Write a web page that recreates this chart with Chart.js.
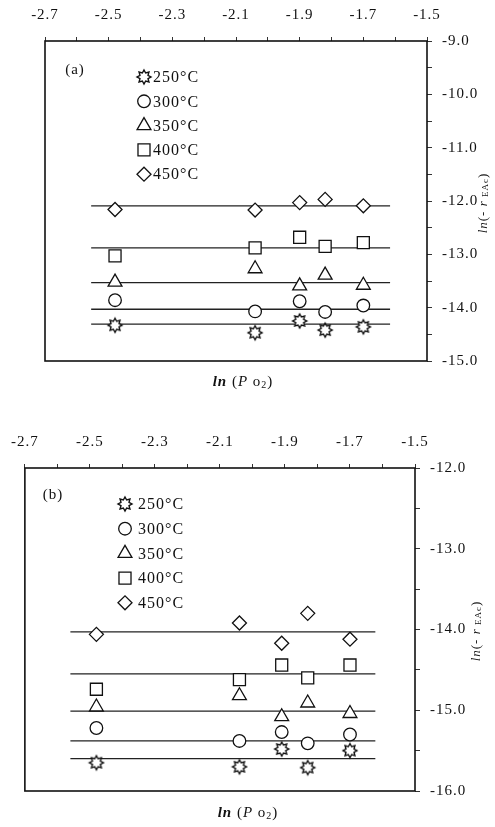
<!DOCTYPE html>
<html><head><meta charset="utf-8">
<script src="https://cdn.jsdelivr.net/npm/chart.js@4.4.1/dist/chart.umd.min.js"></script>
<style>
html,body{margin:0;padding:0;background:#fff;width:495px;height:827px;overflow:hidden}
canvas{position:absolute;left:0}
#ca{top:0}
#cb{top:400px}
</style></head><body>
<canvas id="ca" width="495" height="400"></canvas>
<canvas id="cb" width="495" height="427"></canvas>
<script>
// ---- data ----
const temps = ['250°C','300°C','350°C','400°C','450°C'];
const xA = [-2.48,-2.04,-1.90,-1.82,-1.70];
const xB = [-2.48,-2.04,-1.91,-1.83,-1.70];
const a250 = [-14.33,-14.47,-14.25,-14.42,-14.36];
const a300 = [-13.86,-14.07,-13.88,-14.08,-13.96];
const a350 = [-13.52,-13.27,-13.59,-13.39,-13.58];
const a400 = [-13.03,-12.88,-12.68,-12.85,-12.78];
const a450 = [-12.16,-12.17,-12.03,-11.97,-12.09];
const aFit = [-14.31,-14.03,-13.53,-12.88,-12.09];
const b250 = [-15.65,-15.70,-15.48,-15.71,-15.50];
const b300 = [-15.22,-15.38,-15.27,-15.41,-15.30];
const b350 = [-14.96,-14.82,-15.08,-14.91,-15.04];
const b400 = [-14.74,-14.62,-14.44,-14.60,-14.44];
const b450 = [-14.06,-13.92,-14.17,-13.80,-14.12];
const bFit = [-15.60,-15.38,-15.01,-14.55,-14.03];
const fitXA = [-2.555,-1.616];
const fitXB = [-2.56,-1.622];
const xRange = [-2.7,-1.5];
const yRangeA = [-15,-9];
const yRangeB = [-16,-12];

// ---- styles ----
const INK = '#111';
function makeStar(r){
  const s = Math.ceil(r*2+4);
  const c = document.createElement('canvas'); c.width = c.height = s;
  const g = c.getContext('2d'); const cx = s/2, cy = s/2;
  g.beginPath();
  for(let i=0;i<16;i++){
    const a = Math.PI*i/8 - Math.PI/2;
    const rr = i%2===0 ? r : r*0.62;
    g.lineTo(cx+rr*Math.cos(a), cy+rr*Math.sin(a));
  }
  g.closePath(); g.fillStyle='#fff'; g.fill();
  g.lineWidth=1.4; g.strokeStyle=INK; g.stroke();
  return c;
}
const starImg = makeStar(7);
const styles = [
  {pointStyle: starImg, radius: 7},
  {pointStyle: 'circle', radius: 6.3},
  {pointStyle: 'triangle', radius: 8},
  {pointStyle: 'rect', radius: 8.5},
  {pointStyle: 'rectRot', radius: 7}
];
const SERIF = '"Liberation Serif", "Times New Roman", serif';

function drawRich(ctx, segs, cx, cy, rot){
  ctx.save();
  ctx.translate(cx, cy); ctx.rotate(rot||0);
  ctx.textBaseline = 'middle'; ctx.fillStyle = INK;
  let w = 0;
  segs.forEach(s => { ctx.font = s.f; w += ctx.measureText(s.t).width; });
  let x = -w/2;
  segs.forEach(s => { ctx.font = s.f; ctx.textAlign='left'; ctx.fillText(s.t, x, s.dy||0); x += ctx.measureText(s.t).width; });
  ctx.restore();
}

const decor = {
  id: 'decor',
  beforeDraw(chart){ try{ chart.ctx.letterSpacing = '1px'; }catch(e){} },
  afterDatasetsDraw(chart){
    const a = chart.chartArea, ctx = chart.ctx;
    ctx.save(); ctx.strokeStyle = INK; ctx.lineWidth = 1.6;
    ctx.strokeRect(a.left, a.top, a.right-a.left, a.bottom-a.top);
    ctx.restore();
  },
  afterDraw(chart, args, o){
    const ctx = chart.ctx;
    ctx.save();
    ctx.fillStyle = INK; ctx.textBaseline = 'middle';
    ctx.font = '15px ' + SERIF; ctx.textAlign = 'center';
    ctx.fillText(o.tag, o.tagX, o.tagY);
    // legend
    const pts = chart.data.datasets.filter(d => d.isPts);
    pts.forEach((d, i) => {
      const y = o.legY0 + i*o.legDy;
      ctx.fillStyle = '#fff'; ctx.strokeStyle = INK; ctx.lineWidth = 1.3;
      Chart.helpers.drawPoint(ctx, {pointStyle: d.pointStyle, radius: d.pointRadius, rotation: 0, borderWidth: 1.3}, o.legX, y);
      ctx.fillStyle = INK; ctx.textAlign = 'left';
      ctx.font = '16px ' + SERIF;
      ctx.fillText(d.label, o.textX, y + 1);
    });
    ctx.restore();
    const it = 'italic bold 15px ' + SERIF, rg = '15px ' + SERIF, sm = '10px ' + SERIF;
    drawRich(ctx, [{t:'ln',f:it},{t:' (',f:rg},{t:'P',f:'italic 15px '+SERIF},{t:' o',f:rg},{t:'2',f:sm,dy:3},{t:')',f:rg}], o.xtX, o.xtY, 0);
    const it2 = 'italic 13px ' + SERIF, rg2 = '13px ' + SERIF, sm2 = '9px ' + SERIF;
    drawRich(ctx, [{t:'ln',f:it2},{t:'(- ',f:rg2},{t:'r',f:it2},{t:' EAc',f:sm2,dy:2},{t:')',f:rg2}], o.ytX, o.ytY, -Math.PI/2);
  }
};

function build(canvas, xs, series, fit, fitX, yRange, geo, deco){
  const datasets = [];
  series.forEach((ys, i) => {
    datasets.push({
      label: temps[i], isPts: true, order: 1,
      data: xs.map((x, k) => ({x, y: ys[k]})),
      pointStyle: styles[i].pointStyle, pointRadius: styles[i].radius,
      pointBackgroundColor: '#fff', pointBorderColor: INK, pointBorderWidth: 1.3,
      showLine: false
    });
  });
  fit.forEach(v => {
    datasets.push({
      label: 'fit', isPts: false, order: 2,
      data: fitX.map(x => ({x, y: v})),
      showLine: true, borderColor: '#222', borderWidth: 1.3, pointRadius: 0
    });
  });
  return new Chart(canvas, {
    type: 'scatter',
    data: {datasets},
    plugins: [decor],
    options: {
      responsive: false, animation: false, devicePixelRatio: 1,
      layout: {padding: {left: geo.left, top: 0, right: 0, bottom: geo.bottom}},
      plugins: {legend: {display: false}, tooltip: {enabled: false}, decor: deco},
      scales: {
        x: {
          type: 'linear', position: 'top', min: xRange[0], max: xRange[1],
          afterFit: s => { s.height = geo.top; },
          border: {display: false},
          grid: {drawOnChartArea: false, drawTicks: true, tickLength: 4, color: '#333', lineWidth: 1},
          ticks: {stepSize: 0.1, autoSkip: false, maxRotation: 0, padding: 13, color: INK,
            font: {family: SERIF, size: 15},
            callback: v => (Math.round(Math.abs(v)*10) % 2 === 1) ? v.toFixed(1) : ''}
        },
        y: {
          type: 'linear', position: 'right', min: yRange[0], max: yRange[1],
          afterFit: s => { s.width = geo.right; },
          border: {display: false},
          grid: {drawOnChartArea: false, drawTicks: true, tickLength: 5, color: '#333', lineWidth: 1},
          ticks: {stepSize: 0.5, autoSkip: false, padding: 10, color: INK,
            font: {family: SERIF, size: 15},
            callback: v => Math.abs(v - Math.round(v)) < 1e-6 ? v.toFixed(1) : ''}
        }
      }
    }
  });
}

build(document.getElementById('ca'), xA, [a250,a300,a350,a400,a450], aFit, fitXA, yRangeA,
  {left: 45, top: 41, right: 68, bottom: 39},
  {tag: '(a)', tagX: 75, tagY: 70, legX: 144, legY0: 77, legDy: 24.3, textX: 153, xtX: 243, xtY: 382, ytX: 484, ytY: 203});
build(document.getElementById('cb'), xB, [b250,b300,b350,b400,b450], bFit, fitXB, yRangeB,
  {left: 23, top: 68, right: 80, bottom: 36},
  {tag: '(b)', tagX: 53, tagY: 95, legX: 125, legY0: 104, legDy: 24.7, textX: 138, xtX: 248, xtY: 413, ytX: 477, ytY: 231});
</script>
</body></html>
